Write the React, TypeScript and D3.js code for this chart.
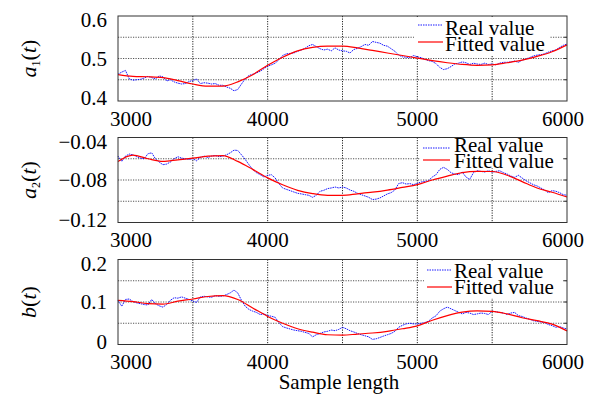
import * as d3 from "d3";

// sample positions of the two series
const realSamples = d3.range(3000, 6001, 25);
const fitSamples = d3.range(3000, 6001, 100);

// a1(t)
const a1Real = [
  0.463, 0.468, 0.472, 0.452, 0.449, 0.45, 0.451, 0.454, 0.458, 0.455,
  0.452, 0.459, 0.457, 0.447, 0.45, 0.445, 0.442, 0.44, 0.441, 0.446,
  0.448, 0.452, 0.441, 0.443, 0.442, 0.44, 0.441, 0.437, 0.437, 0.433,
  0.43, 0.424, 0.427, 0.44, 0.452, 0.46, 0.463, 0.466, 0.47, 0.476,
  0.482, 0.485, 0.489, 0.497, 0.507, 0.511, 0.512, 0.513, 0.517, 0.52,
  0.524, 0.53, 0.533, 0.528, 0.523, 0.52, 0.522, 0.518, 0.525, 0.52,
  0.518, 0.517, 0.513, 0.521, 0.524, 0.528, 0.533, 0.531, 0.54, 0.538,
  0.536, 0.531, 0.529, 0.523, 0.517, 0.508, 0.504, 0.503, 0.502, 0.507,
  0.504, 0.502, 0.498, 0.495, 0.493, 0.488, 0.479, 0.474, 0.476, 0.481,
  0.487, 0.489, 0.492, 0.49, 0.486, 0.489, 0.487, 0.486, 0.489, 0.486,
  0.487, 0.485, 0.489, 0.491, 0.491, 0.492, 0.494, 0.491, 0.496, 0.499,
  0.502, 0.506, 0.508, 0.509, 0.511, 0.515, 0.518, 0.52, 0.526, 0.531,
  0.534,
];
const a1Fit = [
  0.462, 0.458, 0.457, 0.455, 0.448, 0.44, 0.435, 0.435, 0.445, 0.462,
  0.484, 0.503, 0.518, 0.526, 0.529, 0.529, 0.525, 0.519, 0.513, 0.507,
  0.501, 0.495, 0.49, 0.486, 0.484, 0.485, 0.49, 0.496, 0.505, 0.516,
  0.532,
];

// a2(t)
const a2Real = [
  -0.0575, -0.0625, -0.0575, -0.0556, -0.0563, -0.0581, -0.0594, -0.06, -0.0553, -0.0544,
  -0.06, -0.0631, -0.0656, -0.065, -0.0631, -0.06, -0.0581, -0.0594, -0.06, -0.0606,
  -0.06, -0.0619, -0.0588, -0.0575, -0.0588, -0.0575, -0.0569, -0.0581, -0.0575, -0.0563,
  -0.0544, -0.0519, -0.0522, -0.0563, -0.0606, -0.0656, -0.07, -0.0731, -0.075, -0.0772,
  -0.0756, -0.075, -0.0781, -0.0834, -0.0875, -0.0888, -0.09, -0.0913, -0.0925, -0.0931,
  -0.0938, -0.0944, -0.0963, -0.0944, -0.0906, -0.0897, -0.0881, -0.0875, -0.0866, -0.0875,
  -0.0866, -0.0875, -0.0894, -0.0906, -0.0925, -0.0938, -0.095, -0.0963, -0.0984, -0.098,
  -0.0969, -0.095, -0.0931, -0.0919, -0.0894, -0.0834, -0.0825, -0.0838, -0.0834, -0.0844,
  -0.0831, -0.0819, -0.0813, -0.0806, -0.0772, -0.075, -0.07, -0.0681, -0.07, -0.0731,
  -0.0744, -0.075, -0.0725, -0.0772, -0.0794, -0.0731, -0.0713, -0.0719, -0.0725, -0.0713,
  -0.0725, -0.0719, -0.0713, -0.0731, -0.0744, -0.0763, -0.0775, -0.0756, -0.0781, -0.0806,
  -0.0825, -0.0844, -0.0856, -0.0875, -0.0894, -0.0919, -0.09, -0.0906, -0.0919, -0.0938,
  -0.0944,
];
const a2Fit = [
  -0.0625, -0.0565, -0.06, -0.0625, -0.061, -0.0595, -0.0575, -0.057, -0.0625, -0.07,
  -0.078, -0.0845, -0.0897, -0.0928, -0.0944, -0.0944, -0.093, -0.0915, -0.0895, -0.087,
  -0.0844, -0.08, -0.0763, -0.073, -0.0719, -0.072, -0.0755, -0.0815, -0.0875, -0.0915,
  -0.096,
];

// b(t)
const bReal = [
  0.104, 0.09, 0.106, 0.107, 0.101, 0.098, 0.096, 0.094, 0.093, 0.106,
  0.096, 0.091, 0.088, 0.094, 0.104, 0.11, 0.109, 0.112, 0.109, 0.106,
  0.102, 0.099, 0.112, 0.1135, 0.112, 0.111, 0.115, 0.1135, 0.114, 0.1175,
  0.1215, 0.128, 0.1215, 0.104, 0.09, 0.0825, 0.0785, 0.0755, 0.0705, 0.072,
  0.068, 0.0665, 0.064, 0.0515, 0.042, 0.039, 0.0365, 0.034, 0.0325, 0.031,
  0.0285, 0.026, 0.018, 0.023, 0.026, 0.0295, 0.031, 0.034, 0.0325, 0.0355,
  0.0405, 0.037, 0.0325, 0.0295, 0.026, 0.023, 0.0205, 0.018, 0.012, 0.0135,
  0.0165, 0.02, 0.023, 0.026, 0.031, 0.0405, 0.045, 0.0485, 0.05, 0.0485,
  0.0485, 0.05, 0.0515, 0.055, 0.0625, 0.0675, 0.0785, 0.084, 0.088, 0.084,
  0.08, 0.076, 0.072, 0.0755, 0.074, 0.0705, 0.072, 0.074, 0.073, 0.0705,
  0.0785, 0.077, 0.0755, 0.074, 0.0705, 0.074, 0.0755, 0.068, 0.066, 0.0625,
  0.0595, 0.056, 0.0545, 0.053, 0.0515, 0.047, 0.0445, 0.0405, 0.042, 0.039,
  0.0365,
];
const bFit = [
  0.104, 0.101, 0.096, 0.095, 0.102, 0.107, 0.113, 0.115, 0.106, 0.086,
  0.066, 0.05, 0.037, 0.029, 0.023, 0.022, 0.0245, 0.027, 0.031, 0.037,
  0.044, 0.057, 0.068, 0.076, 0.079, 0.078, 0.072, 0.063, 0.056, 0.048,
  0.032,
];

const xTicks = [3000, 4000, 5000, 6000];
const xGrid = [3500, 4000, 4500, 5000, 5500];
const legendLabels = ["Real value", "Fitted value"];
const xTitle = "Sample length";

const FONT = "'Liberation Serif', 'Times New Roman', serif";
const X0 = 118;
const X1 = 567;
const PH = 85;

const panels = [
  {
    top: 16,
    domain: [0.4, 0.6],
    grid: [0.45, 0.5, 0.55],
    ticks: [0.4, 0.5, 0.6],
    fmt: (v) => d3.format(".1f")(v),
    real: a1Real,
    fit: a1Fit,
    name: "a",
    sub: "1",
    legend: { x0: 418, x1: 443, tx: 445, realY: 25, fitY: 42, realBase: 35, fitBase: 51, box: [414, 17, 136, 38] },
  },
  {
    top: 137.5,
    domain: [-0.12, -0.04],
    grid: [-0.1, -0.08, -0.06],
    ticks: [-0.12, -0.08, -0.04],
    fmt: (v) => "\u2212" + d3.format(".2f")(Math.abs(v)),
    real: a2Real,
    fit: a2Fit,
    name: "a",
    sub: "2",
    legend: { x0: 423, x1: 450, tx: 454, realY: 148, fitY: 160, realBase: 152, fitBase: 168, box: [420, 138, 142, 30] },
  },
  {
    top: 259.5,
    domain: [0, 0.2],
    grid: [0.05, 0.1, 0.15],
    ticks: [0, 0.1, 0.2],
    fmt: (v) => (v === 0 ? "0" : d3.format(".1f")(v)),
    real: bReal,
    fit: bFit,
    name: "b",
    sub: null,
    legend: { x0: 427, x1: 452, tx: 454, realY: 270, fitY: 287, realBase: 278, fitBase: 294, box: [424, 261, 138, 37] },
  },
];

const x = d3.scaleLinear().domain([3000, 6000]).range([X0, X1]);

function Panel({ p }) {
  const y = d3.scaleLinear().domain(p.domain).range([p.top + PH, p.top]);
  const realLine = d3
    .line<number>()
    .x((_, i) => x(realSamples[i]))
    .y((d) => y(d));
  const fitLine = d3
    .line<number>()
    .x((_, i) => x(fitSamples[i]))
    .y((d) => y(d))
    .curve(d3.curveMonotoneX);
  const bottom = p.top + PH;
  const lg = p.legend;
  const midY = p.top + PH / 2;

  return (
    <g>
      {/* grid */}
      {p.grid.map((g) => (
        <line key={"h" + g} x1={X0} x2={X1} y1={y(g)} y2={y(g)} stroke="#555" strokeWidth={1} strokeDasharray="1.2,1.3" />
      ))}
      {xGrid.map((g) => (
        <line key={"v" + g} x1={x(g)} x2={x(g)} y1={p.top} y2={bottom} stroke="#222" strokeWidth={1} strokeDasharray="1.2,1.3" />
      ))}
      {/* legend background */}
      <rect x={lg.box[0]} y={lg.box[1]} width={lg.box[2]} height={lg.box[3]} fill="#fff" />
      {/* right-side inner ticks */}
      {p.grid.map((g) => (
        <line key={"t" + g} x1={X1 - 3} x2={X1} y1={y(g)} y2={y(g)} stroke="#333" />
      ))}
      {/* legend */}
      <line x1={lg.x0} x2={lg.x1} y1={lg.realY} y2={lg.realY} stroke="#0000ff" strokeWidth={0.9} strokeDasharray="1.5,1" />
      <line x1={lg.x0} x2={lg.x1} y1={lg.fitY} y2={lg.fitY} stroke="#ff0000" strokeWidth={1.2} />
      <text x={lg.tx} y={lg.realBase} fontFamily={FONT} fontSize={21}>{legendLabels[0]}</text>
      <text x={lg.tx} y={lg.fitBase} fontFamily={FONT} fontSize={21}>{legendLabels[1]}</text>
      {/* data */}
      <path d={realLine(p.real) ?? ""} fill="none" stroke="#0000ff" strokeWidth={0.9} strokeDasharray="1.6,0.8" />
      <path d={fitLine(p.fit) ?? ""} fill="none" stroke="#ff0000" strokeWidth={1.2} />
      {/* frame */}
      <rect x={X0} y={p.top} width={X1 - X0} height={PH} fill="none" stroke="#333" strokeWidth={1} />
      {/* y tick labels */}
      {p.ticks.map((t, i) => (
        <text
          key={"yl" + t}
          x={107}
          y={y(t)}
          dy={i === 0 ? 4 : i === p.ticks.length - 1 ? 11 : 7}
          textAnchor="end"
          fontFamily={FONT}
          fontSize={21}
        >
          {p.fmt(t)}
        </text>
      ))}
      {/* x tick labels */}
      {xTicks.map((t, i) => (
        <text
          key={"xl" + t}
          x={x(t) + (i === 0 ? 13 : i === xTicks.length - 1 ? -4 : 0)}
          y={bottom + 24.5}
          textAnchor="middle"
          fontFamily={FONT}
          fontSize={21}
        >
          {t}
        </text>
      ))}
      {/* y title */}
      <text transform={`translate(36,${midY}) rotate(-90)`} textAnchor="middle" fontFamily={FONT} fontSize={22}>
        <tspan fontStyle="italic">{p.name}</tspan>
        {p.sub ? (
          <tspan fontSize={12} dy={4}>{p.sub}</tspan>
        ) : null}
        <tspan dy={p.sub ? -4 : 0}>(</tspan>
        <tspan fontStyle="italic">t</tspan>
        <tspan>)</tspan>
      </text>
    </g>
  );
}

export default function App() {
  return (
    <svg
      width={594}
      height={402}
      style={{ position: "absolute", left: 0, top: 0, background: "#fff" }}
    >
      {panels.map((p, i) => (
        <Panel key={i} p={p} />
      ))}
      <text x={339} y={389} textAnchor="middle" fontFamily={FONT} fontSize={21}>
        {xTitle}
      </text>
    </svg>
  );
}
